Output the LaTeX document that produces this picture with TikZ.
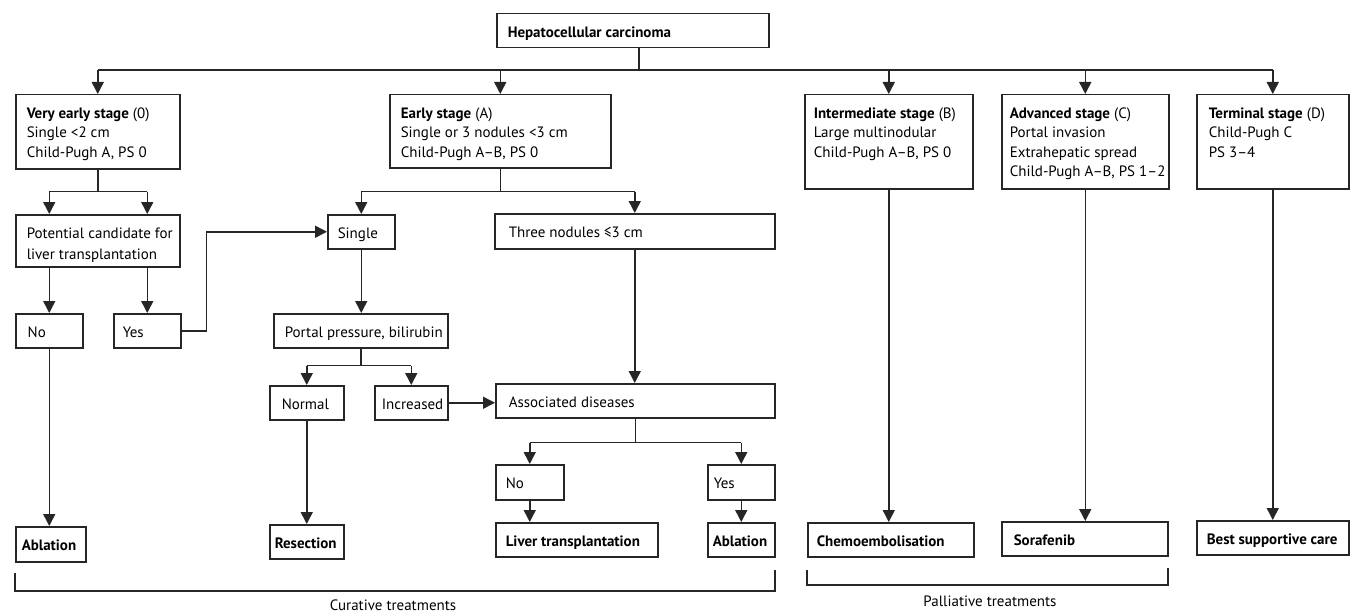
\documentclass[tikz,border=0pt]{standalone}
\usepackage{fontspec}
\setmainfont{PT Sans}
\usetikzlibrary{arrows.meta,calc}
\newcommand\bx[7][11]{%
  \pgfmathsetmacro\bw{#5-#3-#1}%
  \pgfmathsetmacro\bh{#6-#4}%
  \node[boxn] (#2) at (#3,#4) {\hspace*{#1pt}\parbox[b][\bh pt][t]{\bw pt}{\vspace*{9.85pt}\begin{tabular}{@{}l@{}}#7\end{tabular}}};}
\begin{document}
\begin{tikzpicture}[x=1pt,y=-1pt,
  font=\fontsize{15}{19.5}\selectfont,
  line/.style={line width=1.5pt, draw=black!85},
  arr/.style={line, -{Triangle[length=12pt,width=12pt]}},
  boxn/.style={draw=black!85, line width=1.5pt, anchor=north west, inner sep=0pt, text=black},
  captext/.style={inner sep=0pt, anchor=base, text=black}]
\useasboundingbox (0,0) rectangle (1356,615);
% boxes
\bx{hcc}{496}{13}{768}{47}{\textbf{Hepatocellular carcinoma}}
\bx{ve}{15}{94}{179}{168}{\textbf{Very early stage} (0)\\Single <2 cm\\Child-Pugh A, PS 0}
\bx{ea}{389}{94}{610}{167}{\textbf{Early stage} (A)\\Single or 3 nodules <3 cm\\Child-Pugh A–B, PS 0}
\bx[9]{im}{804}{94}{972}{188}{\textbf{Intermediate stage} (B)\\Large multinodular\\Child-Pugh A–B, PS 0}
\bx[8]{ad}{1001}{94}{1168}{188}{\textbf{Advanced stage} (C)\\Portal invasion\\Extrahepatic spread\\Child-Pugh A–B, PS 1–2}
\bx[12]{te}{1196}{94}{1348}{188}{\textbf{Terminal stage} (D)\\Child-Pugh C\\PS 3–4}
\bx{pc}{15}{214}{179}{266}{Potential candidate for\\[1.5pt]liver transplantation}
\bx[12]{no1}{15}{313}{82}{347}{No}
\bx[9]{yes1}{113}{313}{180}{347}{Yes}
\bx[10]{single}{327}{214}{394}{248}{Single}
\bx[14]{three}{494}{213}{774}{248}{Three nodules ≤3 cm}
\bx[11]{portal}{273}{313}{447}{347}{Portal pressure, bilirubin}
\bx[12]{normal}{269}{385}{343}{419}{Normal}
\bx[7]{incr}{374}{385}{447}{419}{Increased}
\bx[13]{assoc}{495}{383}{774}{417}{Associated diseases}
\bx[10]{no2}{495}{464}{563}{499}{No}
\bx[6]{yes2}{707}{464}{774}{499}{Yes}
\bx[6]{abl1}{15}{526}{85}{561}{\textbf{Ablation}}
\bx[5]{res}{269}{524}{343}{558}{\textbf{Resection}}
\bx[10]{lt}{495}{522}{657}{556}{\textbf{Liver transplantation}}
\bx[5]{abl2}{707}{522}{774}{556}{\textbf{Ablation}}
\bx[9]{chemo}{807}{522}{973}{556}{\textbf{Chemoembolisation}}
\bx[12]{sora}{1001}{521}{1167}{555}{\textbf{Sorafenib}}
\bx[10]{bsc}{1196}{520}{1348}{554}{\textbf{Best supportive care}}
% connectors
\coordinate (bus) at (638,70);
\coordinate (hd) at ([xshift=6pt]hcc.south);
\draw[line] (hd) -- (hd|-bus);
\draw[line] (ve.north|-bus) -- (te.north|-bus);
\foreach \n in {ve,ea,im,ad,te} \draw[arr] (\n.north|-bus) -- (\n.north);
\path (ve.south) ++(0,22) coordinate (j1);
\draw[line] (ve.south) -- (j1);
\draw[line] (no1.north|-j1) -- (yes1.north|-j1);
\draw[arr] (no1.north|-j1) -- (no1.north|-pc.north);
\draw[arr] (yes1.north|-j1) -- (yes1.north|-pc.north);
\draw[arr] (no1.north|-pc.south) -- (no1.north);
\draw[arr] (yes1.north|-pc.south) -- (yes1.north);
\draw[arr] (yes1.east) -- ++(25,0) |- (single.west);
\path (ea.south) ++(0,23) coordinate (j2);
\draw[line] (ea.south) -- (j2);
\draw[line] (single.north|-j2) -- (three.north|-j2);
\draw[arr] (single.north|-j2) -- (single.north);
\draw[arr] (three.north|-j2) -- (three.north);
\draw[arr] (single.south) -- (single.south|-portal.north);
\path (portal.south) ++(0,17) coordinate (j3);
\draw[line] (portal.south) -- (j3);
\draw[line] (normal.north|-j3) -- (incr.north|-j3);
\draw[arr] (normal.north|-j3) -- (normal.north);
\draw[arr] (incr.north|-j3) -- (incr.north);
\draw[arr] (incr.east) -- (incr.east-|assoc.west);
\draw[arr] (three.south) -- (three.south|-assoc.north);
\path (assoc.south) ++(0,24) coordinate (j4);
\draw[line] (assoc.south) -- (j4);
\draw[line] (no2.north|-j4) -- (yes2.north|-j4);
\draw[arr] (no2.north|-j4) -- (no2.north);
\draw[arr] (yes2.north|-j4) -- (yes2.north);
\draw[arr] (no2.south) -- (no2.south|-lt.north);
\draw[arr] (yes2.south) -- (abl2.north);
\draw[arr] (no1.south) -- (no1.south|-abl1.north);
\draw[arr] (normal.south) -- (res.north);
\draw[arr] (im.south) -- (im.south|-chemo.north);
\draw[arr] (ad.south) -- (ad.south|-sora.north);
\draw[arr] (te.south) -- (te.south|-bsc.north);
% brackets
\coordinate (cb1) at (15,573);
\coordinate (cb2) at (15,591);
\coordinate (cb3) at (775,591);
\coordinate (cb4) at (775,570);
\draw[line] (cb1) -- (cb2) -- (cb3) -- (cb4);
\coordinate (pb1) at (807,570);
\coordinate (pb2) at (807,585);
\coordinate (pb3) at (1168,585);
\coordinate (pb4) at (1168,568);
\draw[line] (pb1) -- (pb2) -- (pb3) -- (pb4);
\node[captext] (curative) at (393,610) {Curative treatments};
\node[captext] (palliative) at (990,606) {Palliative treatments};
\end{tikzpicture}
\end{document}
